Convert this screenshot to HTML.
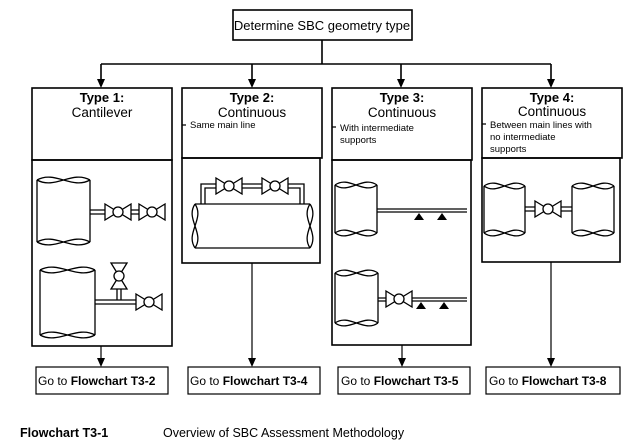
<!DOCTYPE html>
<html><head><meta charset="utf-8"><style>
html,body{margin:0;padding:0;background:#fff;}
svg{display:block;font-family:"Liberation Sans",Arial,sans-serif;}
</style></head><body>
<svg width="644" height="443" viewBox="0 0 644 443" xmlns="http://www.w3.org/2000/svg">
<defs>
<g id="vh"><path d="M-13,-8 L0,0 L-13,8 Z M13,-8 L0,0 L13,8 Z" fill="#fff" stroke="#000" stroke-width="1.3"/><circle r="5" fill="#fff" stroke="#000" stroke-width="1.3"/></g>
</defs>
<g fill="none" stroke="#000" stroke-width="1.6">
<rect x="233" y="10" width="179" height="30"/>
<path d="M322 40 V64 M101 64 H551"/>
<path d="M101 64 V80 M252 64 V80 M401 64 V80 M551 64 V80"/>
<rect x="32" y="88" width="140" height="72"/><rect x="32" y="160" width="140" height="186"/>
<rect x="182" y="88" width="140" height="70"/><rect x="182" y="158" width="138" height="105"/>
<rect x="332" y="88" width="140" height="72"/><rect x="332" y="160" width="139" height="185"/>
<rect x="482" y="88" width="140" height="70"/><rect x="482" y="158" width="138" height="104"/>
</g>
<g fill="#000">
<path d="M97 79 H105 L101 88 Z M248 79 H256 L252 88 Z M397 79 H405 L401 88 Z M547 79 H555 L551 88 Z"/>
<path d="M97 358 H105 L101 367 Z M248 358 H256 L252 367 Z M398 358 H406 L402 367 Z M547 358 H555 L551 367 Z"/>
</g>
<g fill="none" stroke="#000" stroke-width="1.2">
<path d="M101 346 V360 M252 263 V360 M402 345 V360 M551 262 V360"/>
<rect x="36" y="367" width="132" height="27"/>
<rect x="188" y="367" width="132" height="27"/>
<rect x="338" y="367" width="132" height="27"/>
<rect x="486" y="367" width="134" height="27"/>
<path d="M182 125 H186 M332 127 H336 M482 124 H486"/>
</g>
<g fill="#fff" stroke="#000" stroke-width="1.3">
<path d="M37 180 V242 M90 180 V242 M37 180 C55 170 72 190 90 180 M37 180 C55 190 72 170 90 180 M37 242 C55 232 72 252 90 242 M37 242 C55 252 72 232 90 242" fill="none"/>
<path d="M40 270 V335 M95 270 V335 M40 270 C58 260 77 280 95 270 M40 270 C58 280 77 260 95 270 M40 335 C58 325 77 345 95 335 M40 335 C58 345 77 325 95 335" fill="none"/>
<path d="M335 185 V233 M377 185 V233 M335 185 C349 175 363 195 377 185 M335 185 C349 195 363 175 377 185 M335 233 C349 223 363 243 377 233 M335 233 C349 243 363 223 377 233" fill="none"/>
<path d="M335 273 V323 M378 273 V323 M335 273 C349 263 364 283 378 273 M335 273 C349 283 364 263 378 273 M335 323 C349 313 364 333 378 323 M335 323 C349 333 364 313 378 323" fill="none"/>
<path d="M484 186 V233 M525 186 V233 M484 186 C498 176 511 196 525 186 M484 186 C498 196 511 176 525 186 M484 233 C498 223 511 243 525 233 M484 233 C498 243 511 223 525 233" fill="none"/>
<path d="M572 186 V233 M614 186 V233 M572 186 C586 176 600 196 614 186 M572 186 C586 196 600 176 614 186 M572 233 C586 223 600 243 614 233 M572 233 C586 243 600 223 614 233" fill="none"/>
<path d="M195 204 H310 M195 248 H310 M195 204 C185 219 205 233 195 248 M195 204 C205 219 185 233 195 248 M310 204 C300 219 320 233 310 248 M310 204 C320 219 300 233 310 248" fill="none"/>
<path d="M90 210 H105 M90 214 H105 M131 210 H139 M131 214 H139" fill="none"/>
<path d="M95 300 H136 M95 304 H136 M117 289 V300 M121 289 V300" fill="none"/>
<path d="M201 204 V184 H216 M205 204 V188 H216 M242 184 H262 M242 188 H262 M288 184 H304 V204 M288 188 H300 V204" fill="none"/>
<path d="M377 209 H467 M377 212 H467" fill="none"/>
<path d="M378 298 H386 M378 301 H386 M412 298 H467 M412 301 H467" fill="none"/>
<path d="M525 207 H535 M525 211 H535 M561 207 H572 M561 211 H572" fill="none"/>
</g>
<use href="#vh" x="118" y="212"/><use href="#vh" x="152" y="212"/>
<use href="#vh" x="149" y="302"/>
<use href="#vh" transform="translate(119,276) rotate(90)"/>
<use href="#vh" x="229" y="186"/><use href="#vh" x="275" y="186"/>
<use href="#vh" x="399" y="299"/>
<use href="#vh" x="548" y="209"/>
<g fill="#000">
<path d="M414 220 L419 213 L424 220 Z M437 220 L442 213 L447 220 Z M416 309 L421 302 L426 309 Z M439 309 L444 302 L449 309 Z"/>
</g>
<g fill="#000" text-anchor="middle">
<text x="322" y="30" font-size="13">Determine SBC geometry type</text>
<text x="102" y="102" font-size="13" font-weight="bold">Type 1:</text>
<text x="102" y="117" font-size="13.5">Cantilever</text>
<text x="252" y="102" font-size="13" font-weight="bold">Type 2:</text>
<text x="252" y="117" font-size="13.5">Continuous</text>
<text x="402" y="102" font-size="13" font-weight="bold">Type 3:</text>
<text x="402" y="117" font-size="13.5">Continuous</text>
<text x="552" y="102" font-size="13" font-weight="bold">Type 4:</text>
<text x="552" y="116" font-size="13.5">Continuous</text>
</g>
<g fill="#000" font-size="9.5">
<text x="190" y="128">Same main line</text>
<text x="340" y="131">With intermediate</text>
<text x="340" y="143">supports</text>
<text x="490" y="128">Between main lines with</text>
<text x="490" y="140">no intermediate</text>
<text x="490" y="152">supports</text>
</g>
<g fill="#000" font-size="12">
<text x="38" y="385">Go to <tspan font-weight="bold">Flowchart T3-2</tspan></text>
<text x="190" y="385">Go to <tspan font-weight="bold">Flowchart T3-4</tspan></text>
<text x="341" y="385">Go to <tspan font-weight="bold">Flowchart T3-5</tspan></text>
<text x="489" y="385">Go to <tspan font-weight="bold">Flowchart T3-8</tspan></text>
<text x="20" y="437" font-weight="bold" font-size="12.5">Flowchart T3-1</text>
<text x="163" y="437" font-size="12.5">Overview of SBC Assessment Methodology</text>
</g>
</svg>
</body></html>
